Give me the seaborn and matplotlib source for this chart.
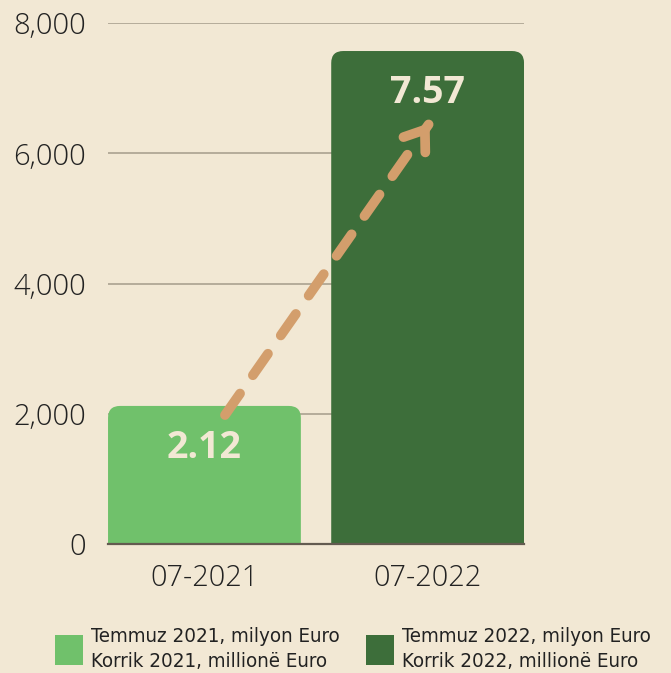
import matplotlib
matplotlib.use('Agg')
import matplotlib.pyplot as plt
import seaborn as sns
from matplotlib import font_manager as fm
from matplotlib.patches import FancyBboxPatch, Patch

# data (millions of Euro)
categories = ['07-2021', '07-2022']
values = [2120, 7570]
value_labels = ['2.12', '7.57']
legend_labels = ['Temmuz 2021, milyon Euro\nKorrik 2021, millionë Euro',
                 'Temmuz 2022, milyon Euro\nKorrik 2022, millionë Euro']
yticks = [0, 2000, 4000, 6000, 8000]

bg = '#f2e8d4'
bar_colors = ['#70c16b', '#3d6e3a']
arrow_color = '#d39e6c'
text_color = '#222222'

sns.set_style('white')
plt.rcParams['font.family'] = ['Open Sans', 'DejaVu Sans']

# legend wants a narrow face; pick what is there
ttf = fm.fontManager.ttflist
names = {f.name for f in ttf}
if 'Liberation Sans Narrow' in names:
    leg_prop = {'family': ['Liberation Sans Narrow', 'DejaVu Sans'], 'size': 18}
elif any(f.name == 'DejaVu Sans' and 'condensed' in str(f.stretch) for f in ttf):
    leg_prop = {'family': ['DejaVu Sans'], 'stretch': 'condensed', 'size': 14.7}
else:
    leg_prop = {'family': ['Roboto', 'DejaVu Sans'], 'size': 15.3}
fs_px = leg_prop['size'] * 100 / 72

fig = plt.figure(figsize=(6.71, 6.73), dpi=100, facecolor=bg)
ax = fig.add_axes([0.161, 0.1917, 0.620, 0.7741])
ax.set_facecolor(bg)

sns.barplot(x=categories, y=values, hue=categories, palette=bar_colors,
            legend=False, width=0.864, ax=ax, zorder=2)

# swap the plain bars for rounded ones
rx = 0.054
asp = 3400
for p, c in zip(list(ax.patches), bar_colors):
    x, w, h = p.get_x(), p.get_width(), p.get_height()
    p.set_visible(False)
    box = FancyBboxPatch((x, -600), w, h + 600,
                         boxstyle=f'round,pad=0,rounding_size={rx}',
                         mutation_aspect=asp, facecolor=c, edgecolor='none',
                         zorder=2, clip_on=True)
    ax.add_patch(box)

for i, (v, lab) in enumerate(zip(values, value_labels)):
    ax.text(i, v - 650, lab, ha='center', va='center', fontsize=27,
            fontweight='bold', color=bg, zorder=4)

# dashed arrow from first bar to second
x0, y0 = 0.092, values[0] - 140
x1, y1 = 1.009, values[1] - 1105
f = 0.915
ax.plot([x0, x0 + f * (x1 - x0)], [y0, y0 + f * (y1 - y0)], color=arrow_color,
        lw=7, dashes=(2.7, 2.3), dash_capstyle='round', zorder=3)
g = 0.995
ax.annotate('', xy=(x1, y1), xytext=(x0 + g * (x1 - x0), y0 + g * (y1 - y0)),
            arrowprops=dict(arrowstyle='->,head_length=0.66,head_width=0.48',
                            color=arrow_color, lw=7, capstyle='round',
                            joinstyle='round', shrinkA=0, shrinkB=0,
                            mutation_scale=20),
            zorder=3)

ax.set_ylim(0, 8000)
ax.set_xlim(-0.432, 1.432)
ax.set_yticks(yticks)
ax.set_yticklabels([f'{t:,}' for t in yticks])
ax.yaxis.grid(True, color='#b5ac9a', lw=1.4, zorder=0)
ax.set_axisbelow(True)
for s in ['top', 'right', 'left']:
    ax.spines[s].set_visible(False)
ax.spines['bottom'].set_color('#635b50')
ax.spines['bottom'].set_linewidth(1.6)
ax.spines['bottom'].set_zorder(5)
ax.tick_params(axis='y', length=0, pad=16, labelsize=21, labelcolor=text_color)
ax.tick_params(axis='x', length=0, pad=14, labelsize=20.8, labelcolor=text_color)
for t in ax.get_xticklabels() + ax.get_yticklabels():
    t.set_fontweight('light')
ax.set_xlabel('')
ax.set_ylabel('')

handles = [Patch(facecolor=c, edgecolor='none') for c in bar_colors]
leg = fig.legend(handles, legend_labels, loc='center left',
                 bbox_to_anchor=(55 / 671, 1 - 649 / 673), ncol=2, frameon=False,
                 borderpad=0, borderaxespad=0, handlelength=28 / fs_px,
                 handleheight=38 / fs_px, handletextpad=8 / fs_px,
                 columnspacing=26 / fs_px, prop=leg_prop)
for t in leg.get_texts():
    t.set_linespacing(1.45)
    t.set_color(text_color)

fig.savefig('out.png', dpi=100, facecolor=bg)
